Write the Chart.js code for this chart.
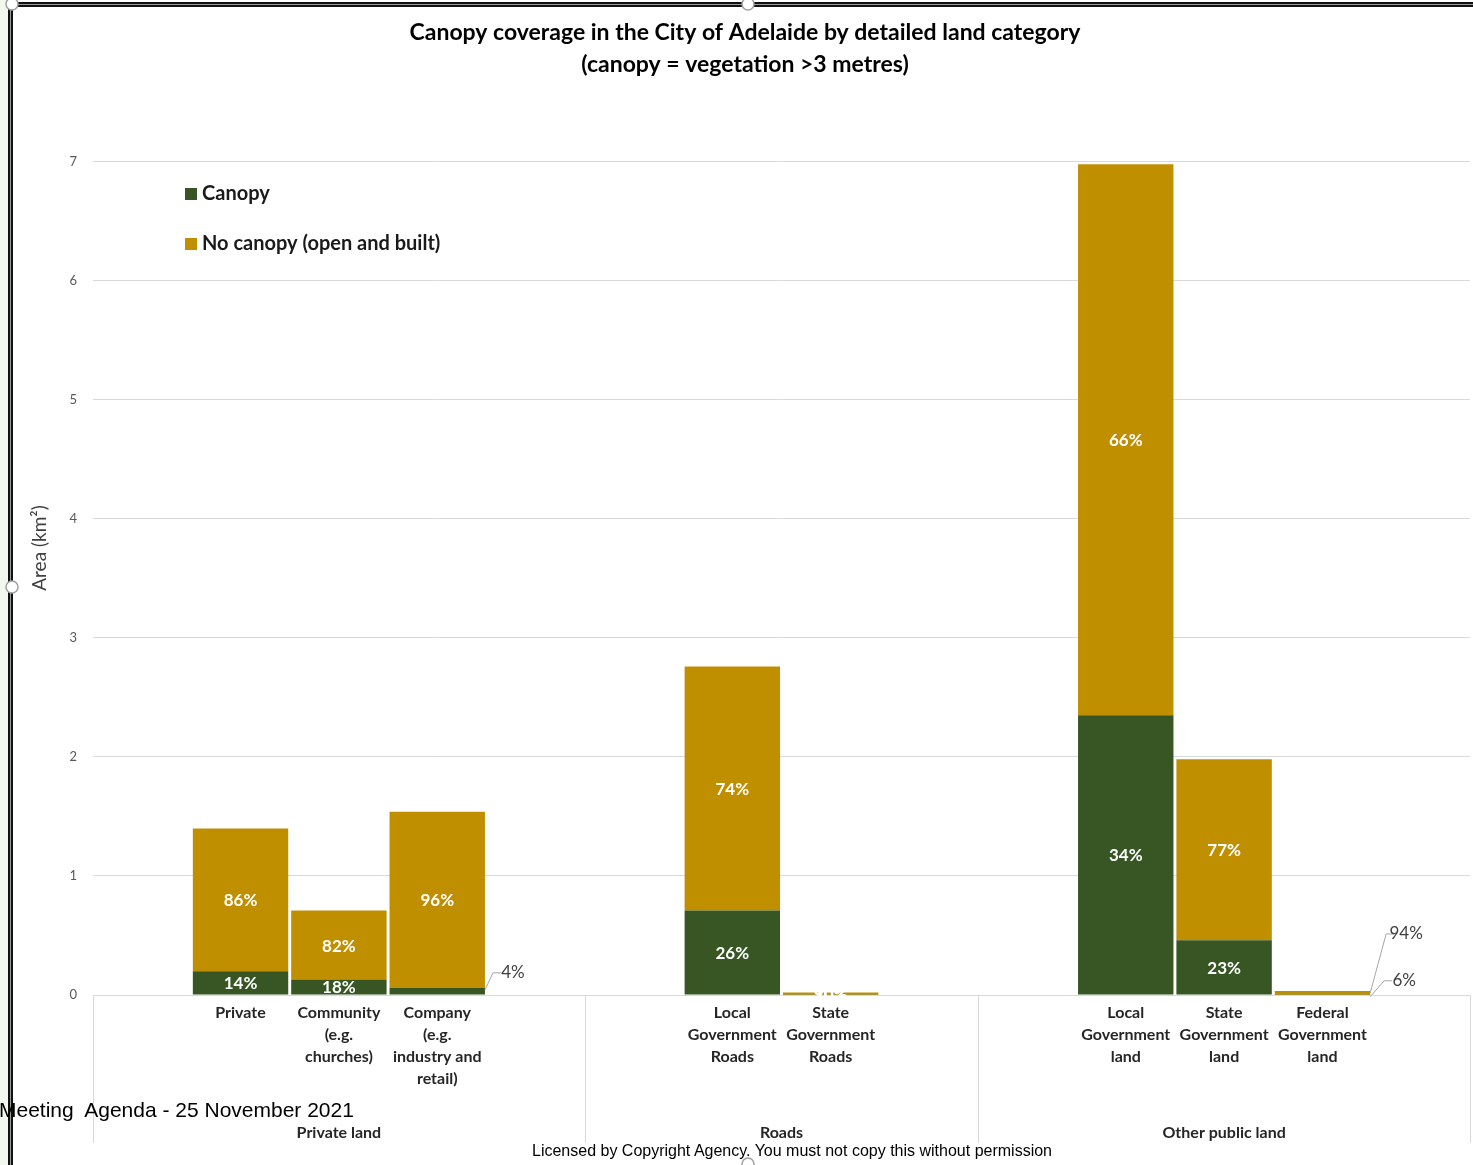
<!DOCTYPE html>
<html>
<head>
<meta charset="utf-8">
<script src="https://cdn.jsdelivr.net/npm/chart.js@4/dist/chart.umd.min.js"></script>
<style>
  html, body { margin: 0; padding: 0; background: #fff; }
  #wrap { position: relative; width: 1473px; height: 1165px; overflow: hidden; }
  #c { position: absolute; left: 0; top: 0; }
  .note { position: absolute; font-family: "Liberation Sans", Arial, sans-serif; color: #000; white-space: nowrap; }
</style>
</head>
<body>
<div id="wrap">
  <canvas id="c" width="1473" height="1165"></canvas>
  <div class="note" style="left:-1px; top:1098px; font-size:21px;">Meeting&nbsp; Agenda - 25 November 2021</div>
  <div class="note" style="left:532px; top:1142px; font-size:16px;">Licensed by Copyright Agency. You must not copy this without permission</div>
</div>
<script>
// ---------- DATA ----------
const titleLines = ['Canopy coverage in the City of Adelaide by detailed land category', '(canopy = vegetation >3 metres)'];
const categories = [
  '',
  ['Private'],
  ['Community', '(e.g.', 'churches)'],
  ['Company', '(e.g.', 'industry and', 'retail)'],
  '',
  '',
  ['Local', 'Government', 'Roads'],
  ['State', 'Government', 'Roads'],
  '',
  '',
  ['Local', 'Government', 'land'],
  ['State', 'Government', 'land'],
  ['Federal', 'Government', 'land'],
  ''
];
const canopy    = [null, 0.20, 0.13, 0.06, null, null, 0.71, 0.002, null, null, 2.35, 0.46, 0.002, null];
const noCanopy  = [null, 1.20, 0.58, 1.48, null, null, 2.05, 0.018, null, null, 4.63, 1.52, 0.032, null];
const canopyPct   = ['', '14%', '18%', '4%', '', '', '26%', '10%', '', '', '34%', '23%', '6%', ''];
const noCanopyPct = ['', '86%', '82%', '96%', '', '', '74%', '90%', '', '', '66%', '77%', '94%', ''];
const groupNames = ['Private land', 'Roads', 'Other public land'];
const groupStart = [0, 5, 9];
const groupEnd   = [5, 9, 14];
const yTicks = [0, 1, 2, 3, 4, 5, 6, 7];
const yTitle = 'Area (km²)';

// ---------- STYLE ----------
const GREEN = '#375623';
const GOLD = '#BF8F00';
const GRID = '#D9D9D9';
const FONT = 'Lato, "Open Sans", sans-serif';

// outside-label callouts: [datasetIndex, categoryIndex, dx, dy] (label offsets from bar top-right)
const callouts = [
  [0, 3, 28, -17],
  [0, 12, 34, -16],
  [1, 12, 36, -59]
];

const framePlugin = {
  id: 'frame',
  beforeDraw(chart) {
    const ctx = chart.ctx;
    ctx.save();
    ctx.fillStyle = '#fff';
    ctx.fillRect(0, 0, chart.width, chart.height);
    ctx.fillStyle = '#F3F8EE';
    ctx.fillRect(0, 0, 8, chart.height);
    ctx.restore();
  },
  afterDraw(chart) {
    const ctx = chart.ctx;
    ctx.save();
    ctx.fillStyle = '#111';
    ctx.fillRect(8, 0, 5, chart.height);
    ctx.fillStyle = '#9a9a9a';
    ctx.fillRect(10, 0, 1, chart.height);
    ctx.fillStyle = '#111';
    ctx.fillRect(8, 2, chart.width - 8, 5);
    ctx.fillStyle = '#9a9a9a';
    ctx.fillRect(8, 4, chart.width - 8, 1);
    const handles = [[12, 4], [748, 4], [12, 587], [748, 1164]];
    handles.forEach(([x, y]) => {
      ctx.beginPath();
      ctx.arc(x, y, 6, 0, Math.PI * 2);
      ctx.fillStyle = '#fff';
      ctx.fill();
      ctx.strokeStyle = '#a0a0a0';
      ctx.lineWidth = 1.5;
      ctx.stroke();
    });
    ctx.restore();
  }
};

const extrasPlugin = {
  id: 'extras',
  afterDraw(chart) {
    const ctx = chart.ctx;
    const xs = chart.scales.x;
    const area = chart.chartArea;
    const half = (xs.getPixelForValue(1) - xs.getPixelForValue(0)) / 2;
    ctx.save();
    ctx.strokeStyle = GRID;
    ctx.lineWidth = 1;
    const bounds = new Set();
    groupStart.forEach(s => bounds.add(s));
    groupEnd.forEach(e => bounds.add(e));
    bounds.forEach(b => {
      const x = Math.round(xs.getPixelForValue(b) - half) + 0.5;
      ctx.beginPath();
      ctx.moveTo(x, area.bottom);
      ctx.lineTo(x, area.bottom + 148);
      ctx.stroke();
    });
    ctx.fillStyle = '#262626';
    ctx.font = 'bold 16px ' + FONT;
    ctx.textAlign = 'center';
    ctx.textBaseline = 'middle';
    groupNames.forEach((g, i) => {
      const x = (xs.getPixelForValue(groupStart[i]) + xs.getPixelForValue(groupEnd[i] - 1)) / 2;
      ctx.fillText(g, x, area.bottom + 138);
    });
    ctx.save();
    ctx.translate(40, 548);
    ctx.rotate(-Math.PI / 2);
    ctx.font = '19px ' + FONT;
    ctx.fillStyle = '#404040';
    ctx.fillText(yTitle, 0, 0);
    ctx.restore();
    chart.data.datasets.forEach((ds, i) => {
      const y = 194 + i * 50;
      ctx.fillStyle = ds.backgroundColor;
      ctx.fillRect(185, y - 6, 12, 12);
      ctx.fillStyle = '#1a1a1a';
      ctx.font = 'bold 20px ' + FONT;
      ctx.textAlign = 'left';
      ctx.fillText(ds.label, 202, y);
    });
    ctx.restore();
  }
};

const labelsPlugin = {
  id: 'barLabels',
  afterDatasetsDraw(chart) {
    const ctx = chart.ctx;
    const pcts = [canopyPct, noCanopyPct];
    ctx.save();
    ctx.textAlign = 'center';
    ctx.textBaseline = 'middle';
    chart.data.datasets.forEach((ds, di) => {
      const meta = chart.getDatasetMeta(di);
      meta.data.forEach((bar, i) => {
        const txt = pcts[di][i];
        if (!txt || ds.data[i] == null) return;
        const co = callouts.find(c => c[0] === di && c[1] === i);
        const p = bar.getProps(['x', 'y', 'base', 'width'], true);
        if (co) {
          const x0 = p.x + p.width / 2;
          const y0 = p.y + 2;
          const lx = x0 + co[2];
          const ly = co[3] + y0;
          ctx.strokeStyle = '#a6a6a6';
          ctx.lineWidth = 1;
          ctx.beginPath();
          ctx.moveTo(x0, y0);
          ctx.lineTo(lx - 20, ly);
          ctx.lineTo(lx - 12, ly);
          ctx.stroke();
          ctx.fillStyle = '#404040';
          ctx.font = '17px ' + FONT;
          ctx.textAlign = 'center';
          ctx.fillText(txt, lx, ly);
        } else {
          ctx.fillStyle = '#ffffff';
          ctx.font = 'bold 17px ' + FONT;
          ctx.textAlign = 'center';
          ctx.fillText(txt, p.x, (p.y + p.base) / 2 + 1);
        }
      });
    });
    ctx.restore();
  }
};

new Chart(document.getElementById('c'), {
  type: 'bar',
  data: {
    labels: categories,
    datasets: [
      { label: 'Canopy', data: canopy, backgroundColor: GREEN, borderWidth: 0 },
      { label: 'No canopy (open and built)', data: noCanopy, backgroundColor: GOLD, borderWidth: 0 }
    ]
  },
  options: {
    responsive: false,
    animation: false,
    layout: { padding: { left: 20, right: 3, top: 0, bottom: 20 } },
    datasets: { bar: { categoryPercentage: 1.0, barPercentage: 0.97 } },
    plugins: {
      legend: { display: false },
      tooltip: { enabled: false },
      title: {
        display: true,
        text: titleLines,
        color: '#000',
        font: { family: FONT, size: 23, weight: 'bold', lineHeight: 1.39 },
        padding: { top: 17, bottom: 81 }
      }
    },
    scales: {
      x: {
        stacked: true,
        grid: { display: false, drawTicks: false },
        border: { display: false },
        ticks: {
          autoSkip: false,
          maxRotation: 0,
          minRotation: 0,
          padding: 7,
          color: '#262626',
          font: { family: FONT, size: 16, weight: 'bold', lineHeight: 1.375 }
        },
        afterFit(s) { s.height = 150; }
      },
      y: {
        stacked: true,
        min: 0,
        max: 7,
        afterBuildTicks(s) { s.ticks = yTicks.map(v => ({ value: v })); },
        grid: { color: GRID, drawTicks: false, lineWidth: 1 },
        border: { display: false },
        ticks: { padding: 16, color: '#595959', font: { family: FONT, size: 13 } },
        afterFit(s) { s.width = 73; }
      }
    }
  },
  plugins: [framePlugin, labelsPlugin, extrasPlugin]
});
</script>
</body>
</html>
